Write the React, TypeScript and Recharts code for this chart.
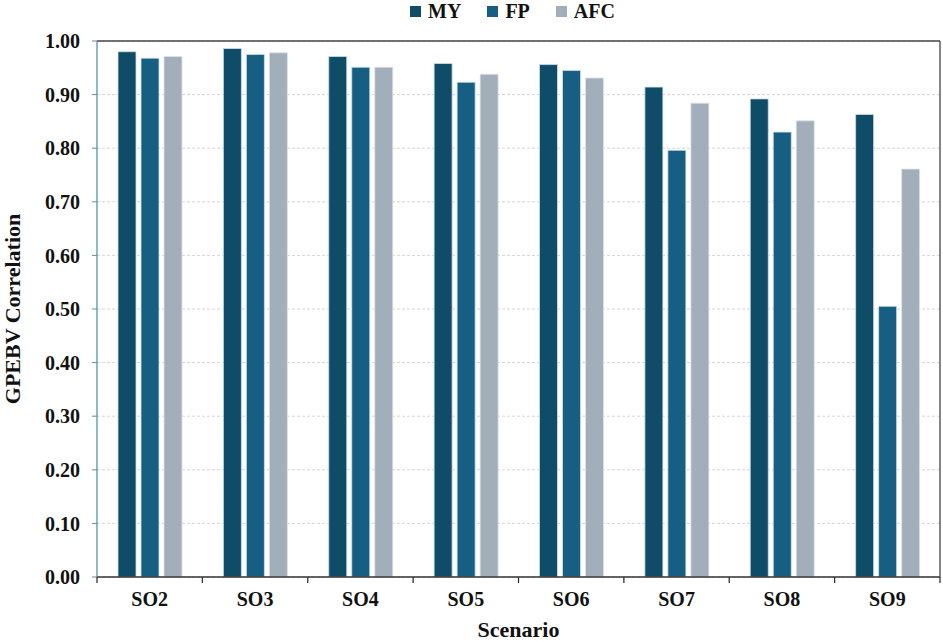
import { BarChart, Bar, XAxis, YAxis, CartesianGrid, Legend, ReferenceLine } from "recharts"

const scenarios = ["SO2", "SO3", "SO4", "SO5", "SO6", "SO7", "SO8", "SO9"]
const myValues = [0.98, 0.986, 0.971, 0.958, 0.956, 0.914, 0.892, 0.863]
const fpValues = [0.968, 0.975, 0.951, 0.923, 0.945, 0.796, 0.83, 0.505]
const afcValues = [0.971, 0.978, 0.951, 0.938, 0.931, 0.884, 0.851, 0.761]
const yTicks = [0, 0.1, 0.2, 0.3, 0.4, 0.5, 0.6, 0.7, 0.8, 0.9, 1.0]

const seriesNames = ["MY", "FP", "AFC"]
const seriesColors = ["#0f4c68", "#165f82", "#a2aeba"]

const FONT = '"Liberation Serif", "Times New Roman", serif'

const data = scenarios.map((name, i) => ({
  name,
  MY: myValues[i],
  FP: fpValues[i],
  AFC: afcValues[i],
}))

// category tick: label centred, tick marks drawn at the band edges
function ScenarioTick(props: any) {
  const { x, y, payload, index, width } = props
  const half = width / scenarios.length / 2
  const isLast = index === scenarios.length - 1
  return (
    <g>
      <line x1={x - half} x2={x - half} y1={y - 8} y2={y - 2} stroke="#333" strokeWidth={1.3} />
      {isLast && <line x1={x + half} x2={x + half} y1={y - 8} y2={y - 2} stroke="#333" strokeWidth={1.3} />}
      <text x={x} y={y + 21} textAnchor="middle" fontFamily={FONT} fontWeight="bold" fontSize={20} fill="#111">
        {payload.value}
      </text>
    </g>
  )
}

function LegendContent() {
  return (
    <div
      style={{
        display: "flex",
        justifyContent: "center",
        gap: 26,
        fontFamily: FONT,
        fontWeight: "bold",
        fontSize: 20,
        color: "#111",
        lineHeight: "22px",
        paddingLeft: 84,
      }}
    >
      {seriesNames.map((n, i) => (
        <div key={n} style={{ display: "flex", alignItems: "center" }}>
          <span style={{ width: 11, height: 11, background: seriesColors[i], marginRight: 7, display: "inline-block" }} />
          <span>{n}</span>
        </div>
      ))}
    </div>
  )
}

export default function App() {
  return (
    <div style={{ width: 943, height: 642, background: "#fff" }}>
      <style>{"body{margin:0}"}</style>
      <BarChart
        width={943}
        height={642}
        data={data}
        margin={{ top: 19, right: 2, bottom: 0, left: 0 }}
        barGap={5}
        barSize={18}
      >
        <CartesianGrid vertical={false} stroke="#d6d6d6" strokeDasharray="3 2" />
        <Legend verticalAlign="top" align="center" wrapperStyle={{ top: 0 }} content={<LegendContent />} />
        <XAxis
          dataKey="name"
          height={65}
          axisLine={{ stroke: "#333", strokeWidth: 1.3 }}
          tickLine={false}
          tick={<ScenarioTick />}
          interval={0}
          label={{
            value: "Scenario",
            position: "insideBottom",
            offset: 5,
            style: { fontFamily: FONT, fontWeight: "bold", fontSize: 22, fill: "#111" },
          }}
        />
        <YAxis
          width={97}
          domain={[0, 1]}
          ticks={yTicks}
          interval={0}
          tickFormatter={(v: number) => v.toFixed(2)}
          axisLine={{ stroke: "#5b8fae", strokeWidth: 1.3 }}
          tickLine={{ stroke: "#5b8fae" }}
          tickSize={5}
          tickMargin={12}
          tick={{ fontFamily: FONT, fontWeight: "bold", fontSize: 20, fill: "#111" }}
          label={{
            value: "GPEBV Correlation",
            angle: -90,
            position: "insideLeft",
            offset: 12,
            style: { textAnchor: "middle", fontFamily: FONT, fontWeight: "bold", fontSize: 22, fill: "#111" },
          }}
        />
        <YAxis
          yAxisId="frame"
          orientation="right"
          width={1}
          domain={[0, 1]}
          tick={false}
          tickLine={false}
          axisLine={{ stroke: "#444", strokeWidth: 1.3 }}
        />
        <ReferenceLine y={1} stroke="#444" strokeWidth={1.5} />
        <Bar dataKey="MY" fill={seriesColors[0]} stroke="#cfe0ea" strokeWidth={0.8} isAnimationActive={false} />
        <Bar dataKey="FP" fill={seriesColors[1]} stroke="#cfe0ea" strokeWidth={0.8} isAnimationActive={false} />
        <Bar dataKey="AFC" fill={seriesColors[2]} stroke="#dde3e8" strokeWidth={0.8} isAnimationActive={false} />
      </BarChart>
    </div>
  )
}
